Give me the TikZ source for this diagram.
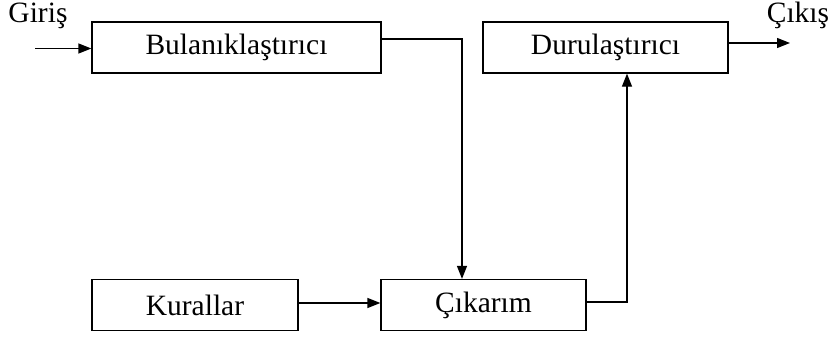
\documentclass[tikz,border=0pt]{standalone}
\usepackage{fontspec}
\setmainfont{Liberation Serif}
\usepackage{tikz}
\usetikzlibrary{arrows.meta, positioning, calc}

\begin{document}
\begin{tikzpicture}[
    x=1pt, y=-1pt,
    font=\fontsize{29.5}{31}\selectfont,
    line width=1.2pt,
    >={Triangle[length=13pt,width=10pt]},
    block/.style={rectangle, draw, minimum width=#1, minimum height=51pt, inner sep=0pt},
    lbl/.style={anchor=base, inner sep=0pt},
]
    \useasboundingbox (0,0) rectangle (831,338);

    % blocks
    \node[block=289pt] (bul) at (236.5,47.5) {Bulanıklaştırıcı};
    \node[block=245pt] (durul) at (605.5,47.5) {Durulaştırıcı};
    \node[block=206pt] (kur) at (195,305) {Kurallar};
    \node[block=205pt] (cik) at (483.5,305) {Çıkarım};

    % input and output
    \node[lbl] (giris) at (38,22) {Giriş};
    \node[lbl] (cikis) at (798,22) {Çıkış};
    \coordinate (in) at (35,48.5);
    \coordinate (out) at (790,43);

    \draw[->] (in) -- (bul.west |- in);
    \draw[->] ([yshift=8.5pt]bul.east) -| ([xshift=-21.5pt]cik.north);
    \draw[->] ([yshift=2pt]kur.east) -- ([yshift=2pt]cik.west);
    \draw[->] ([yshift=3pt]cik.east) -| ([xshift=21.5pt]durul.south);
    \draw[->] (durul.east |- out) -- (out);
\end{tikzpicture}
\end{document}
